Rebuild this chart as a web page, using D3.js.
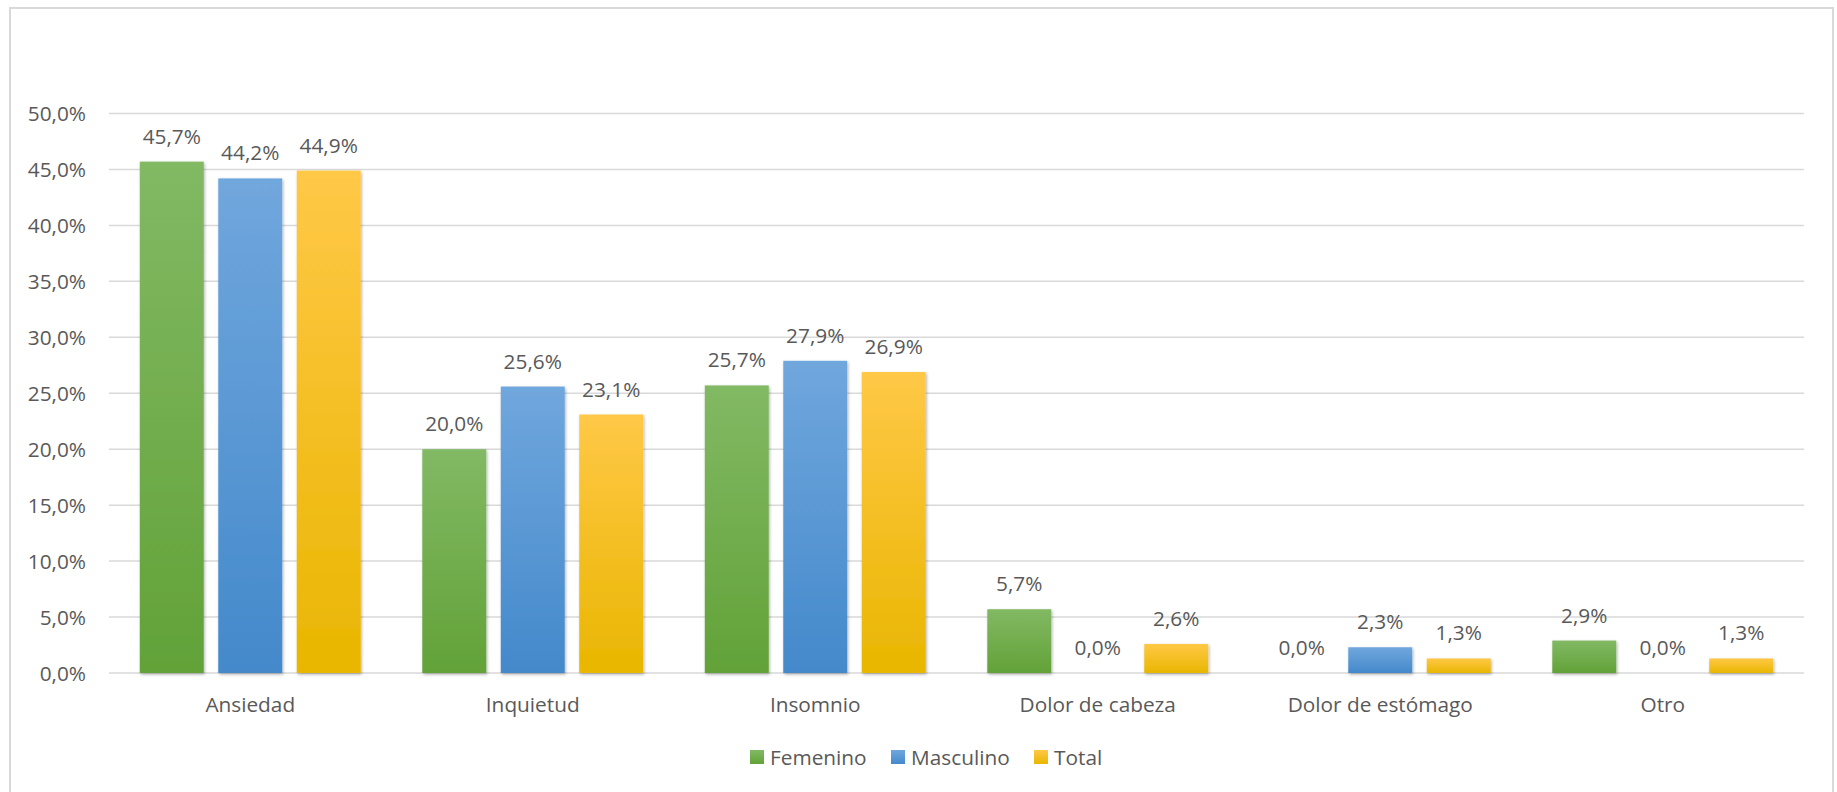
<!DOCTYPE html>
<html>
<head>
<meta charset="utf-8">
<script src="https://cdn.jsdelivr.net/npm/d3@7"></script>
<style>
  html, body { margin: 0; padding: 0; background: #fff; }
  svg { display: block; }
  text { font-family: "Open Sans", "Liberation Sans", sans-serif; fill: #595959; }
</style>
</head>
<body>
<svg id="chart" width="1837" height="792"></svg>
<script>
// Síntomas por sexo (porcentaje)
const categories = ["Ansiedad", "Inquietud", "Insomnio", "Dolor de cabeza", "Dolor de estómago", "Otro"];
const seriesNames = ["Femenino", "Masculino", "Total"];
const femenino  = [45.7, 20.0, 25.7, 5.7, 0.0, 2.9];
const masculino = [44.2, 25.6, 27.9, 0.0, 2.3, 0.0];
const total     = [44.9, 23.1, 26.9, 2.6, 1.3, 1.3];
const yTicks = [0, 5, 10, 15, 20, 25, 30, 35, 40, 45, 50];

const seriesValues = [femenino, masculino, total];
const gradients = [
  ["#82b964", "#62a238"],
  ["#70a7dd", "#4489cb"],
  ["#ffc847", "#e9b600"]
];

const FONT_SIZE = 20.8;
const plot = { left: 109, right: 1804, top: 113.5, bottom: 673 };

const svg = d3.select("#chart");
const locale = d3.formatLocale({ decimal: ",", thousands: ".", grouping: [3], currency: ["", "€"] });
const fmt = v => locale.format(".1f")(v) + "%";

// Defs: vertical gradients and a soft shadow for bars
const defs = svg.append("defs");
gradients.forEach((g, i) => {
  const lg = defs.append("linearGradient")
    .attr("id", "grad" + i).attr("x1", 0).attr("y1", 0).attr("x2", 0).attr("y2", 1);
  lg.append("stop").attr("offset", "0%").attr("stop-color", g[0]);
  lg.append("stop").attr("offset", "100%").attr("stop-color", g[1]);
});
const sh = defs.append("filter").attr("id", "shadow")
  .attr("x", "-20%").attr("y", "-20%").attr("width", "140%").attr("height", "140%");
sh.append("feDropShadow").attr("dx", 1).attr("dy", 1.5).attr("stdDeviation", 1.8)
  .attr("flood-color", "#000").attr("flood-opacity", 0.3);

// Chart frame
svg.append("rect")
  .attr("x", 10).attr("y", 8).attr("width", 1823).attr("height", 800)
  .attr("fill", "none").attr("stroke", "#d9d9d9").attr("stroke-width", 2);

// Scales
const y = d3.scaleLinear().domain([0, 50]).range([plot.bottom, plot.top]);
const x0 = d3.scaleBand().domain(categories).range([plot.left, plot.right]).paddingInner(0).paddingOuter(0);
const groupWidth = x0.bandwidth() * 0.782;
const x1 = d3.scaleBand().domain(seriesNames).range([0, groupWidth]).paddingInner(0.185).paddingOuter(0);
const groupOffset = (x0.bandwidth() - groupWidth) / 2;

// Gridlines
svg.append("g").selectAll("line").data(yTicks).join("line")
  .attr("x1", plot.left).attr("x2", plot.right)
  .attr("y1", d => y(d)).attr("y2", d => y(d))
  .attr("stroke", "#d9d9d9").attr("stroke-width", 1.5);

// Y axis labels
const yAxis = d3.axisLeft(y).tickValues(yTicks).tickFormat(fmt).tickSize(0).tickPadding(0);
const yg = svg.append("g").attr("transform", `translate(86,0)`).call(yAxis);
yg.select(".domain").remove();
yg.selectAll("text").attr("font-size", FONT_SIZE).attr("fill", "#595959")
  .attr("font-family", "'Open Sans', 'Liberation Sans', sans-serif").attr("dy", "0.35em");

// Bars
const groups = svg.append("g").selectAll("g").data(categories).join("g")
  .attr("transform", c => `translate(${x0(c) + groupOffset},0)`);

groups.each(function (c, ci) {
  const g = d3.select(this);
  const items = seriesNames.map((s, si) => ({ s, si, v: seriesValues[si][ci] }));
  g.selectAll("rect").data(items.filter(d => d.v > 0)).join("rect")
    .attr("x", d => x1(d.s))
    .attr("y", d => y(d.v))
    .attr("width", x1.bandwidth())
    .attr("height", d => y(0) - y(d.v))
    .attr("fill", d => `url(#grad${d.si})`)
    .attr("filter", "url(#shadow)");
  g.selectAll("text").data(items).join("text")
    .attr("x", d => x1(d.s) + x1.bandwidth() / 2)
    .attr("y", d => y(d.v) - 18)
    .attr("text-anchor", "middle")
    .attr("font-size", FONT_SIZE)
    .text(d => fmt(d.v));
});

// Category labels
const xAxis = d3.axisBottom(x0).tickSize(0).tickPadding(0);
const xg = svg.append("g").attr("transform", `translate(0,${plot.bottom})`).call(xAxis);
xg.select(".domain").remove();
xg.selectAll("text").attr("font-size", FONT_SIZE).attr("fill", "#595959")
  .attr("font-family", "'Open Sans', 'Liberation Sans', sans-serif")
  .attr("dy", null).attr("y", 39);

// Legend
const legendX = [750, 891, 1034];
const legend = svg.append("g").selectAll("g").data(seriesNames).join("g")
  .attr("transform", (d, i) => `translate(${legendX[i]},750)`);
legend.append("rect").attr("width", 14).attr("height", 14)
  .attr("fill", (d, i) => `url(#grad${i})`);
legend.append("text").attr("x", 20).attr("y", 15).attr("font-size", FONT_SIZE).text(d => d);
</script>
</body>
</html>
